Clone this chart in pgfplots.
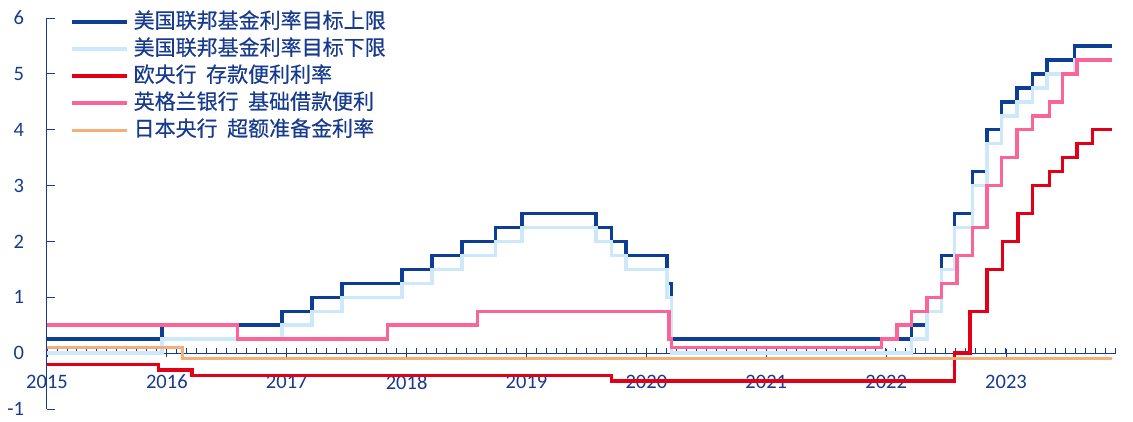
\documentclass[border=0pt]{standalone}
\usepackage{fontspec}
\setmainfont{Carlito}
\newfontfamily\cjk[FakeBold=0.35]{Noto Sans CJK SC}
\usepackage{pgfplots}
\pgfplotsset{compat=1.18}
\definecolor{fedup}{RGB}{12,62,150}
\definecolor{fedlo}{RGB}{204,232,250}
\definecolor{ecb}{RGB}{226,0,22}
\definecolor{boe}{RGB}{250,100,150}
\definecolor{boj}{RGB}{244,175,120}
\definecolor{txt}{RGB}{22,58,142}
\begin{document}
\fontsize{20}{24}\selectfont
\begin{tikzpicture}
\begin{axis}[
  scale only axis, width=1069pt, height=391pt,
  xmin=2015, xmax=2023.917, ymin=-1, ymax=6,
  axis x line=middle, axis y line=left,
  axis line style={-, color=txt, line width=1pt},
  hide obscured x ticks=false, hide obscured y ticks=false,
  xtick={2015,...,2023},
  minor xtick={2015.0833,2015.1667,...,2023.95},
  ytick={-1,0,...,6},
  tick align=inside,
  major tick length=8pt, minor tick length=5pt,
  tick style={color=txt, line width=0.9pt},
  major x tick style={yshift=-3.5pt},
  ticklabel style={font=\fontsize{20.5}{24}\selectfont, text=txt},
  /pgf/number format/assume math mode=true,
  xticklabel style={/pgf/number format/1000 sep=},
  xticklabel shift=15pt, yticklabel shift=16pt,
  legend style={at={(axis description cs:0.0215,1.0155)}, anchor=north west,
    draw=none, fill=none, inner sep=0pt, row sep=7pt, column sep=5pt,
    nodes={inner sep=0pt, text=txt, font=\cjk\fontsize{21}{24}\selectfont, anchor=west, text height=16pt, text depth=4pt}},
  legend cell align=left,
  legend image code/.code={\draw[#1] (0pt,0pt) -- (55pt,0pt);},
  clip=false,
]
\addplot[const plot, fedup, line width=3.5pt] coordinates {
(2015.0,0.25)(2015.96,0.5)(2016.96,0.75)(2017.21,1.0)(2017.46,1.25)(2017.96,1.5)(2018.21,1.75)(2018.46,2.0)(2018.74,2.25)(2018.96,2.5)(2019.58,2.25)(2019.71,2.0)(2019.83,1.75)(2020.17,1.25)(2020.21,0.25)(2022.21,0.5)(2022.34,1.0)(2022.46,1.75)(2022.57,2.5)(2022.72,3.25)(2022.84,4.0)(2022.96,4.5)(2023.09,4.75)(2023.22,5.0)(2023.34,5.25)(2023.57,5.5)(2023.88,5.5)};
\addlegendentry{美国联邦基金利率目标上限}
\addplot[const plot, fedlo, line width=3.5pt] coordinates {
(2015.0,0.0)(2015.96,0.25)(2016.96,0.5)(2017.21,0.75)(2017.46,1.0)(2017.96,1.25)(2018.21,1.5)(2018.46,1.75)(2018.74,2.0)(2018.96,2.25)(2019.58,2.0)(2019.71,1.75)(2019.83,1.5)(2020.17,1.0)(2020.21,0.0)(2022.21,0.25)(2022.34,0.75)(2022.46,1.5)(2022.57,2.25)(2022.72,3.0)(2022.84,3.75)(2022.96,4.25)(2023.09,4.5)(2023.22,4.75)(2023.34,5.0)(2023.57,5.25)(2023.88,5.25)};
\addlegendentry{美国联邦基金利率目标下限}
\addplot[const plot, ecb, line width=3.5pt] coordinates {
(2015,-0.2)(2015.93,-0.3)(2016.21,-0.4)(2019.71,-0.5)(2022.57,0)(2022.70,0.75)(2022.84,1.5)(2022.97,2.0)(2023.10,2.5)(2023.22,3.0)(2023.36,3.25)(2023.47,3.5)(2023.59,3.75)(2023.72,4.0)(2023.88,4.0)};
\addlegendentry{欧央行\hspace{0.45em}存款便利利率}
\addplot[const plot, boe, line width=3.5pt] coordinates {
(2015,0.5)(2016.59,0.25)(2017.84,0.5)(2018.59,0.75)(2020.19,0.25)(2020.21,0.1)(2021.96,0.25)(2022.09,0.5)(2022.21,0.75)(2022.34,1.0)(2022.46,1.25)(2022.59,1.75)(2022.72,2.25)(2022.84,3.0)(2022.96,3.5)(2023.09,4.0)(2023.22,4.25)(2023.36,4.5)(2023.47,5.0)(2023.59,5.25)(2023.88,5.25)};
\addlegendentry{英格兰银行\hspace{0.45em}基础借款便利}
\addplot[const plot, boj, line width=3pt] coordinates {
(2015,0.1)(2016.13,-0.1)(2023.88,-0.1)};
\addlegendentry{日本央行\hspace{0.45em}超额准备金利率}
\end{axis}
\pgfresetboundingbox
\path[use as bounding box] (-47pt,-12pt) rectangle (1086pt,409pt);
\end{tikzpicture}
\end{document}
